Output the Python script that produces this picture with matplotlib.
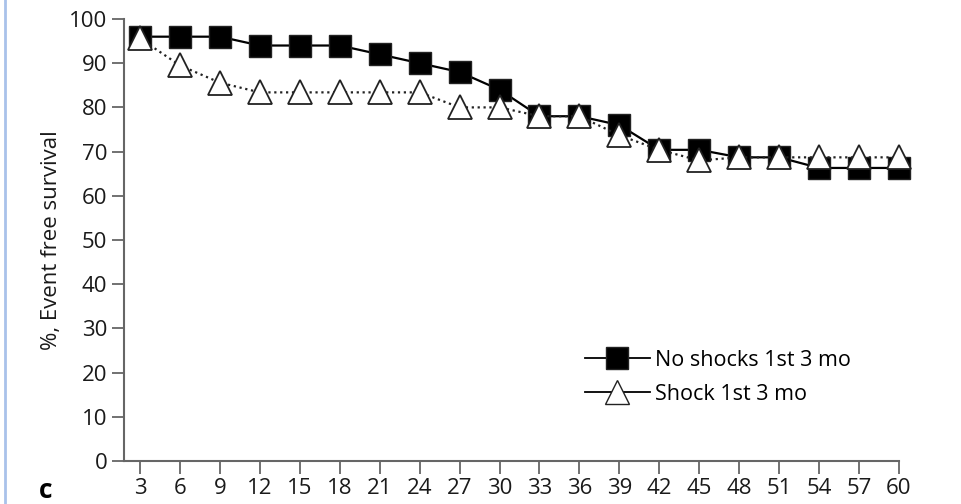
import matplotlib.pyplot as plt
from matplotlib.lines import Line2D

plt.rcParams['font.family'] = ['Open Sans', 'DejaVu Sans']

# months
months = [3, 6, 9, 12, 15, 18, 21, 24, 27, 30, 33, 36, 39, 42, 45, 48, 51, 54, 57, 60]
# no shocks in first 3 months
no_shock = [96, 96, 96, 94, 94, 94, 92, 90, 88, 84, 78, 78, 76, 70.4, 70.4, 68.7, 68.7, 66.3, 66.3, 66.3]
# shock in first 3 months
shock = [95.6, 89.5, 85.6, 83.4, 83.4, 83.4, 83.4, 83.4, 80, 80, 78, 78, 73.7, 70.4, 68, 68.7, 68.7, 68.7, 68.7, 68.7]

fig = plt.figure(figsize=(9.61, 5.04), dpi=100)
ax = fig.add_axes([124/961, 43/504, (899-124)/961, (461-19)/504])

ax.plot(months, no_shock, '-', color='black', lw=1.6, marker='s', ms=16,
        mfc='black', mec='#222222', zorder=3, clip_on=False)
ax.plot(months, shock, ':', color='#222222', lw=1.6, marker='^', ms=17,
        mfc='white', mec='#222222', mew=1.3, zorder=4, clip_on=False)

ax.set_xlim(1.8, 60)
ax.set_ylim(0, 100)
ax.set_xticks(months)
ax.set_yticks(range(0, 101, 10))
for s in ['top', 'right']:
    ax.spines[s].set_visible(False)
for s in ['left', 'bottom']:
    ax.spines[s].set_color('#666666')
    ax.spines[s].set_linewidth(1.5)
ax.tick_params(axis='both', colors='#666666', width=1.3, length=9, labelsize=16,
               labelcolor='#1a1a1a', pad=3)
ax.set_ylabel('%, Event free survival', fontsize=16, color='#1a1a1a', labelpad=5)

h1 = Line2D([], [], color='black', lw=1.3, marker='s', ms=16, mfc='black', mec='#222222')
h2 = Line2D([], [], color='black', lw=1.3, marker='^', ms=17, mfc='white', mec='#222222')
ax.legend([h1, h2], ['No shocks 1st 3 mo', 'Shock 1st 3 mo'], frameon=False,
          fontsize=15.5, handlelength=3.0, handletextpad=0.25, labelspacing=0.6,
          loc='upper left', bbox_to_anchor=(0.57, 0.295))

fig.text(46/961, 1 - 490/504, 'c', fontsize=19, fontweight='bold', ha='center', va='center')
fig.add_artist(Line2D([5/961, 5/961], [0, 1], color='#a9c2ea', lw=2))

fig.savefig('out.png', dpi=100)
